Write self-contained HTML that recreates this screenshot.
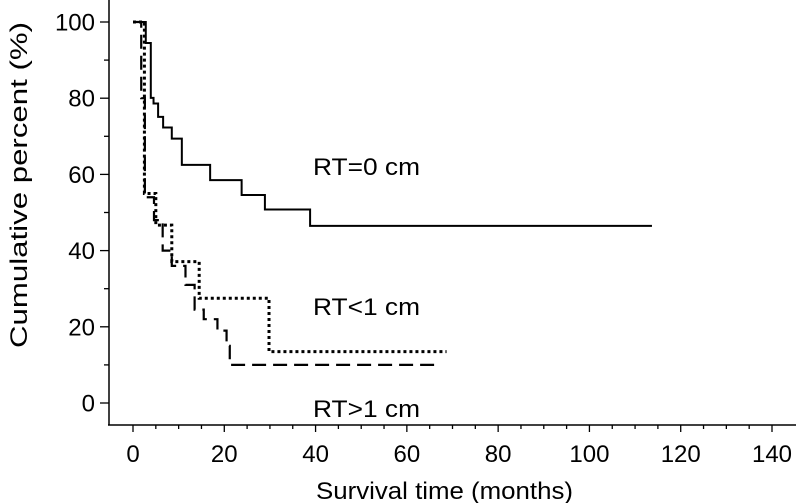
<!DOCTYPE html>
<html><head><meta charset="utf-8"><style>
body{margin:0;background:#fff}
svg{display:block;font-family:"Liberation Sans",Arial,sans-serif}
</style></head><body>
<svg id="chart" width="796" height="503" viewBox="0 0 796 503">
<g id="axes"></g>
<g id="series"></g>
<text x="313" y="175" font-size="24" textLength="107" lengthAdjust="spacingAndGlyphs">RT=0 cm</text>
<text x="313" y="315" font-size="24" textLength="107" lengthAdjust="spacingAndGlyphs">RT&lt;1 cm</text>
<text x="313" y="417" font-size="24" textLength="107" lengthAdjust="spacingAndGlyphs">RT&gt;1 cm</text>
<text x="316" y="499" font-size="24" textLength="257" lengthAdjust="spacingAndGlyphs">Survival time (months)</text>
<text x="0" y="0" font-size="24" text-anchor="middle" textLength="326" lengthAdjust="spacingAndGlyphs" transform="translate(27,185) rotate(-90)">Cumulative percent (%)</text>
</svg>
<script>
const xTicks=[0,20,40,60,80,100,120,140];
const yTicks=[0,20,40,60,80,100];
const rt0Times=[0,2.8,3.9,4.5,5.5,6.6,8.5,10.7,16.9,23.8,28.9,38.8,113.7];
const rt0Values=[100,94.5,80.1,78.6,75.1,72.3,69.4,62.5,58.5,54.6,50.8,46.5,46.5];
const rtLt1Times=[0,2.5,5,8.5,14.5,29.8,68.7];
const rtLt1Values=[100,55,46.7,37.1,27.5,13.5,13.5];
const rtGt1Times=[0,1.8,2.6,4.6,6.5,8.5,11.5,13.5,15.5,18.5,20.5,21.2,66.5];
const rtGt1Values=[100,80,54,48,40,36,31,24.5,22,19,15,10,10];
const NS='http://www.w3.org/2000/svg';
const X=m=>133+m*(772-133)/140;
const Y=p=>403-p*(403-22)/100;
function mk(tag,attrs,parent){const e=document.createElementNS(NS,tag);for(const k in attrs)e.setAttribute(k,attrs[k]);parent.appendChild(e);return e;}
const ax=document.getElementById('axes');
let l=mk('line',{x1:109,y1:0,x2:109,y2:425,stroke:'#000','stroke-width':1.5},ax);


l=mk('line',{x1:108,y1:425,x2:796,y2:425,stroke:'#000','stroke-width':1.5},ax);


for(let m=0;m<=140;m+=5){const major=m%20===0;
 const t=mk('line',{x1:X(m),y1:425,x2:X(m),y2:major?432:429,stroke:'#000','stroke-width':1.3},ax);
 
 }
xTicks.forEach(v=>{const t=mk('text',{x:X(v),y:462,'font-size':24,'text-anchor':'middle'},ax);t.textContent=v;
 
 });
for(let p=0;p<=100;p+=10){const major=p%20===0;
 const t=mk('line',{x1:major?100:104,y1:Y(p),x2:109,y2:Y(p),stroke:'#000','stroke-width':1.3},ax);
 
 }
yTicks.forEach(v=>{const t=mk('text',{x:95,y:Y(v)+8.5,'font-size':24,'text-anchor':'end'},ax);t.textContent=v;
 
 });
function stepPath(ts,vs){let d='M'+X(ts[0])+','+Y(vs[0]);for(let i=1;i<ts.length;i++){d+=' H'+X(ts[i])+' V'+Y(vs[i]);}return d;}
const sg=document.getElementById('series');
let p=mk('path',{d:stepPath(rt0Times,rt0Values),fill:'none',stroke:'#000','stroke-width':2},sg);


p=mk('path',{d:stepPath(rtLt1Times,rtLt1Values),fill:'none',stroke:'#000','stroke-width':3,'stroke-dasharray':'3 3'},sg);


p=mk('path',{d:stepPath(rtGt1Times,rtGt1Values),fill:'none',stroke:'#000','stroke-width':2.2,'stroke-dasharray':'14 7'},sg);


</script>
</body></html>
